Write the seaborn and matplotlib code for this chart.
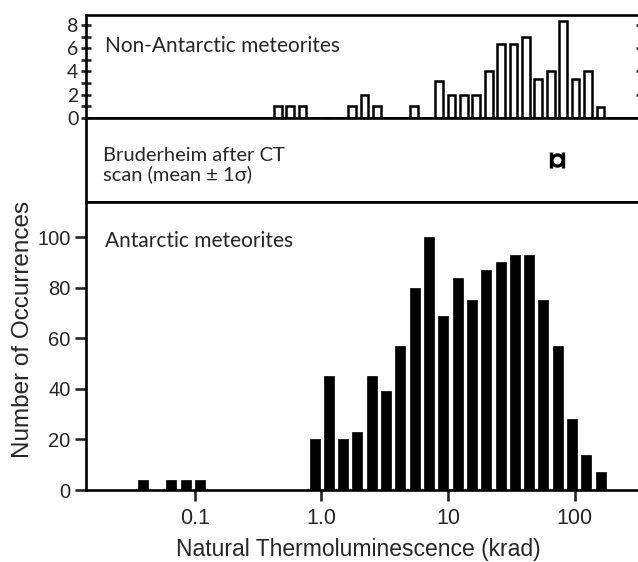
import numpy as np
import pandas as pd
import matplotlib
matplotlib.use("Agg")
import matplotlib.pyplot as plt
from matplotlib.ticker import NullLocator, MultipleLocator
import seaborn as sns

# 非南极陨石：各柱中心 (krad) 与个数
non_ant_krad = [0.44, 0.55, 0.70, 1.74, 2.17, 2.72, 5.4, 8.4, 10.7, 13.4, 16.8,
                21.0, 26.0, 32.6, 41.0, 51.8, 65.0, 83.4, 104, 131, 161]
non_ant_count = [1, 1, 1, 1, 2, 1, 1, 3.2, 2, 2, 2,
                 4, 6.4, 6.4, 7, 3.3, 4, 8.3, 3.3, 4, 0.9]

# 南极陨石
ant_krad = [0.040, 0.068, 0.087, 0.117, 0.88, 1.14, 1.48, 1.92, 2.50, 3.19, 4.13,
            5.47, 7.13, 9.10, 11.8, 16.0, 20.0, 26.1, 33.3, 43.2, 56.4, 74.5, 95.0, 122, 160]
ant_count = [4, 4, 4, 4, 20, 45, 20, 23, 45, 39, 57,
             80, 100, 69, 84, 75, 87, 90, 93, 93, 75, 57, 28, 14, 7]

# Bruderheim CT 扫描后 (mean ± 1 sigma)
bru_mean = 73
bru_sd = 8

x_ticks = [0.1, 1, 10, 100]
x_ticklabels = ["0.1", "1.0", "10", "100"]

non_ant = pd.DataFrame({"krad": non_ant_krad, "n": non_ant_count})
ant = pd.DataFrame({"krad": ant_krad, "n": ant_count})

sns.set_theme(style="white")
plt.rcParams["font.family"] = ["Liberation Sans", "DejaVu Sans"]
plt.rcParams["axes.unicode_minus"] = False
label_font = ["Lato", "DejaVu Sans"]

fig = plt.figure(figsize=(6.38, 5.62), dpi=100)
x0, w = 86 / 638, 555 / 638
ax_top = fig.add_axes([x0, 0.7906, w, 0.1827])
ax_mid = fig.add_axes([x0, 0.6406, w, 0.1500])
ax_bot = fig.add_axes([x0, 0.1281, w, 0.5125])

xlim = (0.01384, 335)
lw = 1.9

# 顶部：空心柱
sns.histplot(data=non_ant, x="krad", weights="n", log_scale=True,
             binwidth=0.098, binrange=(-0.3946, 2.2514), shrink=0.62,
             color="white", edgecolor="black", linewidth=1.8, alpha=1,
             ax=ax_top)
ax_top.set_ylim(0, 8.86)
ax_top.yaxis.set_major_locator(MultipleLocator(2))
ax_top.yaxis.set_minor_locator(MultipleLocator(1))
ax_top.tick_params(axis="y", which="both", direction="inout", length=7, width=lw,
                   left=True, pad=2, labelsize=14)
ax_top.tick_params(axis="y", which="major", right=True)
for t in ax_top.get_yticklabels():
    t.set_family(label_font)
ax_top.text(0.034, 0.70, "Non-Antarctic meteorites", transform=ax_top.transAxes,
            fontsize=15, family=label_font, va="center", ha="left")

# 中部：Bruderheim
ax_mid.set_xscale("log")
ax_mid.errorbar([bru_mean], [0.5], xerr=[bru_sd], fmt="o", ms=8, mfc="white",
                mec="black", mew=2.4, ecolor="black", elinewidth=2, capsize=6,
                capthick=2.4)
ax_mid.set_ylim(0, 1)
ax_mid.set_yticks([])
ax_mid.text(0.03, 0.44, "Bruderheim after CT\nscan (mean \u00b1 1\u03c3)",
            transform=ax_mid.transAxes, fontsize=14.5, family=label_font,
            va="center", ha="left", linespacing=1.1)

# 底部：实心柱
sns.histplot(data=ant, x="krad", weights="n", log_scale=True,
             binwidth=0.113, binrange=(-1.468, 2.261), shrink=0.70,
             color="black", edgecolor="black", linewidth=0.5, alpha=1,
             ax=ax_bot)
ax_bot.set_ylim(0, 113.9)
ax_bot.set_yticks([0, 20, 40, 60, 80, 100])
ax_bot.tick_params(axis="y", direction="out", length=8, width=lw, pad=3,
                   labelsize=14.5, left=True)
ax_bot.tick_params(axis="y", which="major", right=True)
ax_bot.text(0.034, 0.865, "Antarctic meteorites", transform=ax_bot.transAxes,
            fontsize=15, family=label_font, va="center", ha="left")
ax_bot.set_ylabel("Number of Occurrences", fontsize=17.5)
ax_bot.yaxis.set_label_coords(-0.094, 0.556)
ax_bot.set_xlabel("Natural Thermoluminescence (krad)", fontsize=16.5)
ax_bot.xaxis.set_label_coords(0.49, -0.168)

for ax in (ax_top, ax_mid, ax_bot):
    ax.set_xlim(*xlim)
    ax.xaxis.set_minor_locator(NullLocator())
    for s in ax.spines.values():
        s.set_visible(True)
        s.set_linewidth(lw)
        s.set_color("black")
    if ax is not ax_bot:
        ax.set_xlabel("")
        ax.set_ylabel("")

ax_top.set_xticks(x_ticks, [])
ax_top.tick_params(axis="x", direction="out", length=6, width=lw, bottom=True)
ax_mid.set_xticks([])
ax_bot.set_xticks(x_ticks, x_ticklabels)
ax_bot.tick_params(axis="x", direction="out", length=8, width=lw, labelsize=15.5,
                   pad=5, bottom=True)

fig.savefig("out.png", dpi=100)
